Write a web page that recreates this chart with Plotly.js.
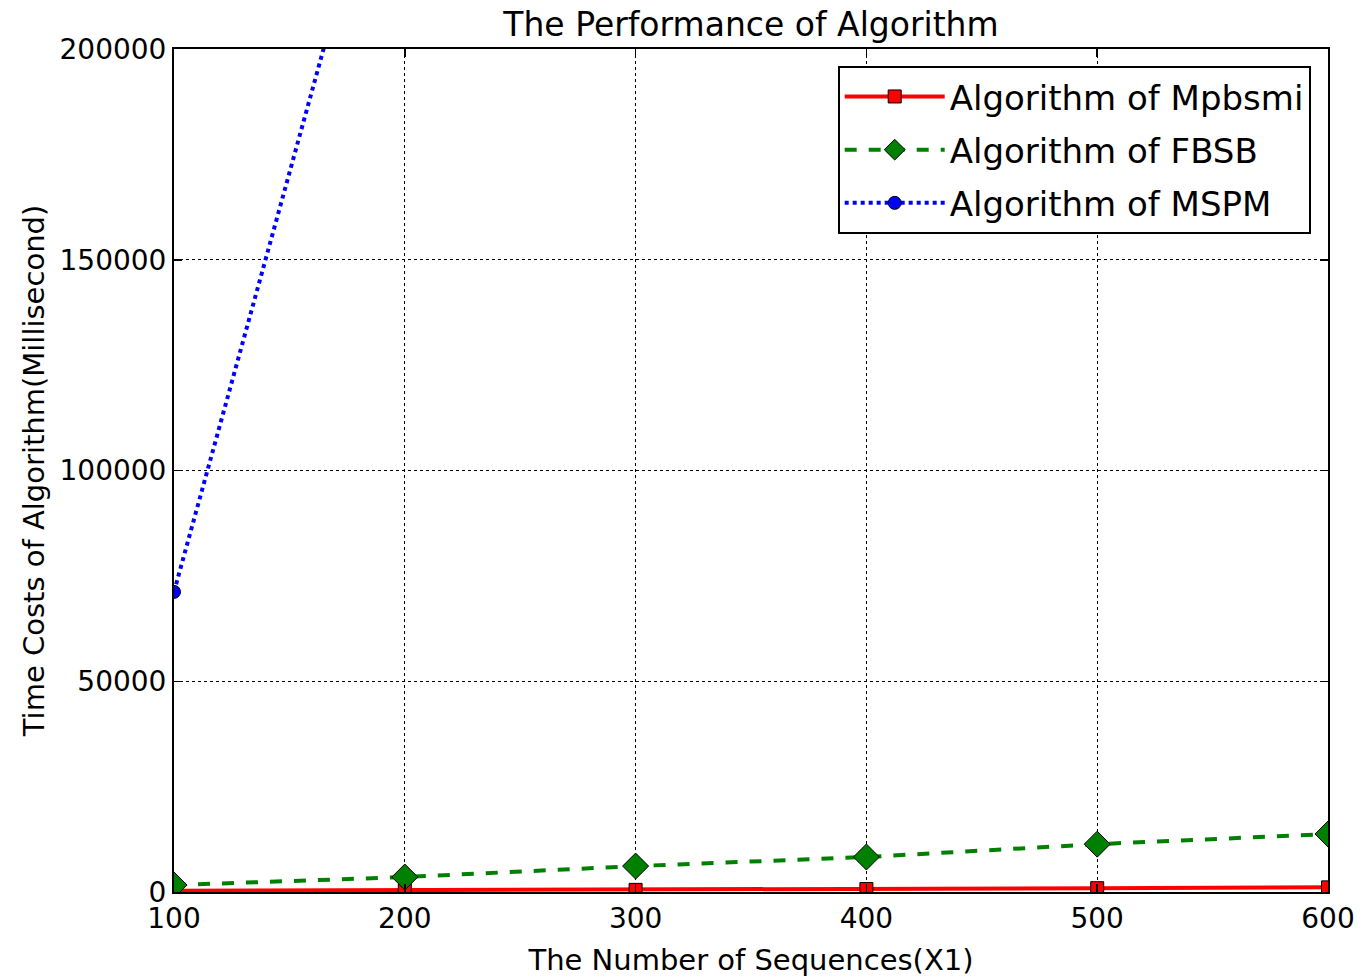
<!DOCTYPE html>
<html>
<head>
<meta charset="utf-8">
<script src="https://cdn.plot.ly/plotly-3.0.1.min.js"></script>
<style>html,body{margin:0;padding:0;background:#fff;}#chart{width:1365px;height:978px;}</style>
</head>
<body>
<div id="chart"></div>
<script>
const sequences = [100, 200, 300, 400, 500, 600];
const mpbsmi = [300, 400, 500, 700, 900, 1100];
const fbsb = [1650, 3550, 6150, 8300, 11350, 13750];
const mspmX = [100, 200];
const mspm = [71200, 270000];
const xTicks = [100, 200, 300, 400, 500, 600];
const yTicks = [0, 50000, 100000, 150000, 200000];

const font = "DejaVu Sans, sans-serif";
const traces = [
  {x: sequences, y: mpbsmi, name: "Algorithm of Mpbsmi", mode: "lines+markers", legendgroup: "a",
   line: {color: "#ff0000", width: 4},
   marker: {symbol: "square", size: 13, color: "#ff0000", line: {color: "#000", width: 1}}},
  {x: sequences, y: fbsb, name: "Algorithm of FBSB", mode: "lines+markers", legendgroup: "b",
   line: {color: "#008000", width: 4, dash: "dash"},
   marker: {symbol: "diamond", size: 20, color: "#008000", line: {color: "#000", width: 1}}},
  {x: mspmX, y: mspm, name: "Algorithm of MSPM", mode: "lines+markers", legendgroup: "c",
   line: {color: "#0000ff", width: 4, dash: "dot"},
   marker: {symbol: "circle", size: 13, color: "#0000ff", line: {color: "#000", width: 1}}}
];
const axisCommon = {
  showline: true, linecolor: "#000", linewidth: 2, mirror: "ticks",
  ticks: "inside", ticklen: 8, tickwidth: 1.5, tickcolor: "#000",
  showgrid: true, gridcolor: "#000", griddash: "dot", gridwidth: 1,
  zeroline: false, tickfont: {family: font, size: 28, color: "#000"},
  exponentformat: "none", tickformat: "d"
};
const layout = {
  width: 1365, height: 978,
  margin: {l: 174, r: 37, t: 49, b: 86},
  paper_bgcolor: "#fff", plot_bgcolor: "#fff",
  font: {family: font, color: "#000"},
  title: {text: "The Performance of Algorithm", font: {family: font, size: 33, color: "#000"},
          x: 0.5, xref: "paper", y: 0.975, yanchor: "middle"},
  xaxis: Object.assign({}, axisCommon, {range: [100, 600], tickvals: xTicks,
    title: {text: "The Number of Sequences(X1)", font: {family: font, size: 29, color: "#000"}, standoff: 16}}),
  yaxis: Object.assign({}, axisCommon, {range: [0, 200000], tickvals: yTicks,
    title: {text: "Time Costs of Algorithm(Millisecond)", font: {family: font, size: 29, color: "#000"}, standoff: 6}}),
  legend: {x: 0.985, y: 0.98, xanchor: "right", yanchor: "top",
    bordercolor: "#000", borderwidth: 2, bgcolor: "#fff",
    font: {family: font, size: 34, color: "#000"}, itemwidth: 100,
    traceorder: "grouped", tracegroupgap: 6},
  showlegend: true
};
Plotly.newPlot("chart", traces, layout, {displayModeBar: false, staticPlot: true});
</script>
</body>
</html>
